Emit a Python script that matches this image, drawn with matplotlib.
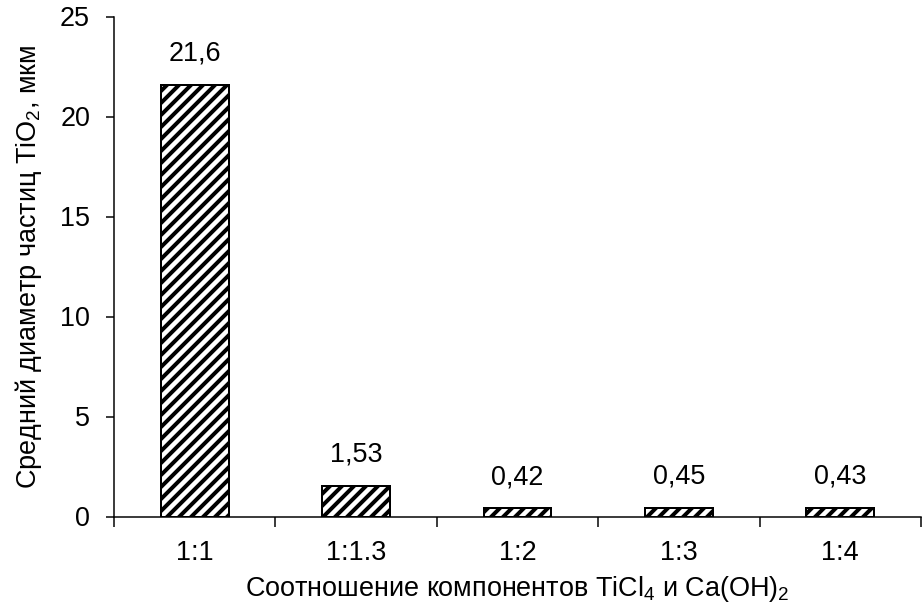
import matplotlib
matplotlib.use("Agg")
import matplotlib.pyplot as plt
import numpy as np

categories = ["1:1", "1:1.3", "1:2", "1:3", "1:4"]
values = [21.6, 1.53, 0.42, 0.45, 0.43]
value_labels = ["21,6", "1,53", "0,42", "0,45", "0,43"]
yticks = [0, 5, 10, 15, 20, 25]

plt.rcParams['font.family'] = ['Liberation Sans', 'DejaVu Sans']
plt.rcParams['mathtext.fontset'] = 'custom'
plt.rcParams['mathtext.rm'] = 'Liberation Sans'
plt.rcParams['mathtext.it'] = 'Liberation Sans'
plt.rcParams['mathtext.default'] = 'regular'
plt.rcParams['hatch.linewidth'] = 4.0
plt.rcParams['hatch.color'] = 'black'

FS = 27
DPI = 72
fig = plt.figure(figsize=(923 / DPI, 605 / DPI), dpi=DPI)
ax = fig.add_axes([114 / 923, 1 - 516.5 / 605, (921 - 114) / 923, (516.5 - 16.5) / 605])

x = np.arange(len(categories))
bars = ax.bar(x, values, width=0.42, color='white', edgecolor='black',
              linewidth=2, hatch='//')

for xi, v, lab in zip(x, values, value_labels):
    ax.annotate(lab, (xi, v), xytext=(0, 24), textcoords='offset points',
                ha='center', va='baseline', fontsize=FS)

ax.set_xlim(-0.5, len(categories) - 0.5)
ax.set_ylim(0, 25)
ax.set_yticks(yticks)
ax.set_yticklabels([str(t) for t in yticks], fontsize=FS)
ax.set_xticks(x)
ax.set_xticklabels(categories, fontsize=FS)
ax.set_xticks(np.arange(-0.5, len(categories), 1.0), minor=True)
ax.tick_params(axis='x', which='major', length=0, pad=24)
ax.tick_params(axis='x', which='minor', length=10, width=1.5, direction='out')
ax.tick_params(axis='y', which='major', length=8, width=1.5, direction='out', pad=16)

for s in ['top', 'right']:
    ax.spines[s].set_visible(False)
for s in ['left', 'bottom']:
    ax.spines[s].set_linewidth(1.5)

ax.set_ylabel('Средний диаметр частиц TiO$_2$, мкм', fontsize=FS, labelpad=16)
ax.set_xlabel('Соотношение компонентов TiCl$_4$ и Ca(OH)$_2$', fontsize=FS, labelpad=8)

fig.savefig('out.png', dpi=DPI)
